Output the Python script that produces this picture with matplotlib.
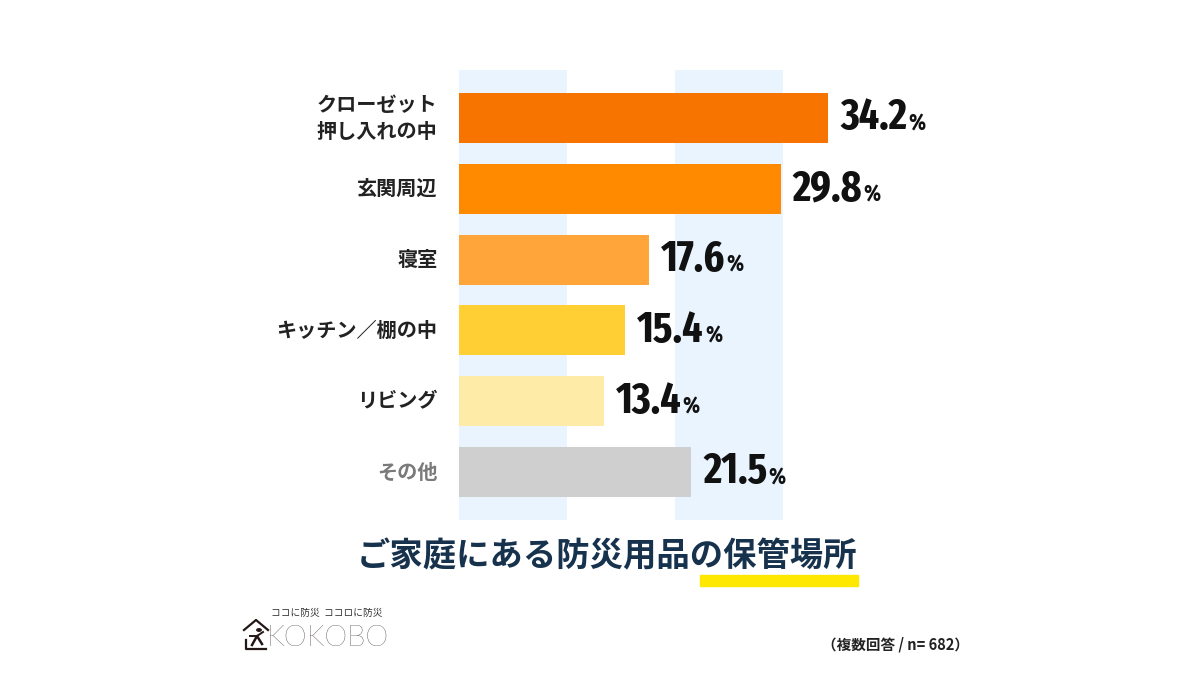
import matplotlib
matplotlib.use("Agg")
import matplotlib.pyplot as plt
from matplotlib import font_manager
from matplotlib.patches import Rectangle
from matplotlib.lines import Line2D

plt.rcParams['font.family'] = ['Noto Sans CJK JP', 'DejaVu Sans']

# data
categories = ['クローゼット\n押し入れの中', '玄関周辺', '寝室', 'キッチン／棚の中', 'リビング', 'その他']
values = [34.2, 29.8, 17.6, 15.4, 13.4, 21.5]
bar_colors = ['#F87400', '#FF8A00', '#FFA53A', '#FFCF33', '#FFEBA8', '#CFCFCF']
label_colors = ['#222222'] * 5 + ['#7a7a7a']
title_text = 'ご家庭にある防災用品の保管場所'
note_text = '（複数回答 / n= 682）'


def narrow_bold():
    # look for any condensed / narrow bold face that is installed
    good = []
    for f in font_manager.fontManager.ttflist:
        nm = f.name.lower()
        st = str(f.stretch).lower()
        narrow = ('condensed' in nm or 'narrow' in nm or 'condensed' in st
                  or (isinstance(f.stretch, int) and f.stretch <= 400))
        w = f.weight if isinstance(f.weight, int) else {'bold': 700}.get(str(f.weight), 400)
        if narrow and f.style == 'normal' and w >= 600:
            rank = 0 if ('extra' in st or 'extra' in nm) else 1
            if 'semi' in st or 'semi' in nm:
                rank = 2
            good.append((rank, abs(w - 700), f.fname))
    if good:
        good.sort()
        return font_manager.FontProperties(fname=good[0][2])
    return font_manager.FontProperties(family='DejaVu Sans', weight='bold')


num_fp = narrow_bold()

fig = plt.figure(figsize=(12, 6.75), dpi=100)
W, H = 1200, 675
ax = fig.add_axes([459 / W, 1 - 520 / H, 486 / W, 450 / H])
ax.set_xlim(0, 45)
ax.set_ylim(5.678, -0.678)
ax.axis('off')

for a, b in [(0, 10), (20, 30)]:
    ax.axvspan(a, b, color='#EAF4FE', zorder=0, lw=0)

ypos = list(range(len(categories)))
ax.barh(ypos, values, height=0.706, color=bar_colors, zorder=2)

for y, cat, v, lc in zip(ypos, categories, values, label_colors):
    ax.text(-2.0, y, cat, ha='right', va='center', fontsize=14.5,
            fontweight='bold', color=lc, linespacing=1.3)
    t = ax.text(v + 1.1, y, f'{v:.1f}', ha='left', va='center',
                fontproperties=num_fp, fontsize=31, color='#111111')
    ax.annotate('%', xy=(1, 0), xycoords=t, xytext=(1, 3),
                textcoords='offset points', ha='left', va='bottom',
                fontproperties=num_fp, fontsize=17, color='#111111')

# title with yellow underline on the last word
fig.patches.append(Rectangle((700 / W, 1 - 586 / H), 158 / W, 11 / H,
                             transform=fig.transFigure, color='#FFE800', zorder=1))
fig.text(607 / W, 1 - 557 / H, title_text, ha='center', va='center',
         fontsize=24, fontweight='bold', color='#17324D', zorder=3)

# logo
fig.text(327 / W, 1 - 613 / H, 'ココに防災  ココロに防災', ha='center', va='center',
         fontsize=7, color='#333333')
fig.text(267 / W, 1 - 638 / H, 'KOKOBO', ha='left', va='center',
         fontsize=21, color='#231815', family=['Lato', 'DejaVu Sans'],
         fontweight='light')
fig.lines.append(Line2D([244 / W, 256 / W, 268 / W], [1 - 630 / H, 1 - 620 / H, 1 - 630 / H],
                        transform=fig.transFigure, color='#231815', lw=1.6))
fig.lines.append(Line2D([246 / W, 246 / W, 266 / W], [1 - 640 / H, 1 - 649 / H, 1 - 649 / H],
                        transform=fig.transFigure, color='#231815', lw=1.6))
fig.lines.append(Line2D([252 / W, 257 / W, 262 / W], [1 - 645 / H, 1 - 636 / H, 1 - 644 / H],
                        transform=fig.transFigure, color='#231815', lw=1.8))
fig.lines.append(Line2D([250 / W, 257 / W, 263 / W], [1 - 636 / H, 1 - 636 / H, 1 - 632 / H],
                        transform=fig.transFigure, color='#231815', lw=1.4))
fig.patches.append(plt.Circle((259 / W, 1 - 630 / H), 2.2 / W,
                              transform=fig.transFigure, color='#231815'))

fig.text(895 / W, 1 - 645 / H, note_text, ha='center', va='center',
         fontsize=10.5, fontweight='bold', color='#222222')

fig.savefig('out.png', dpi=100, facecolor='white')
